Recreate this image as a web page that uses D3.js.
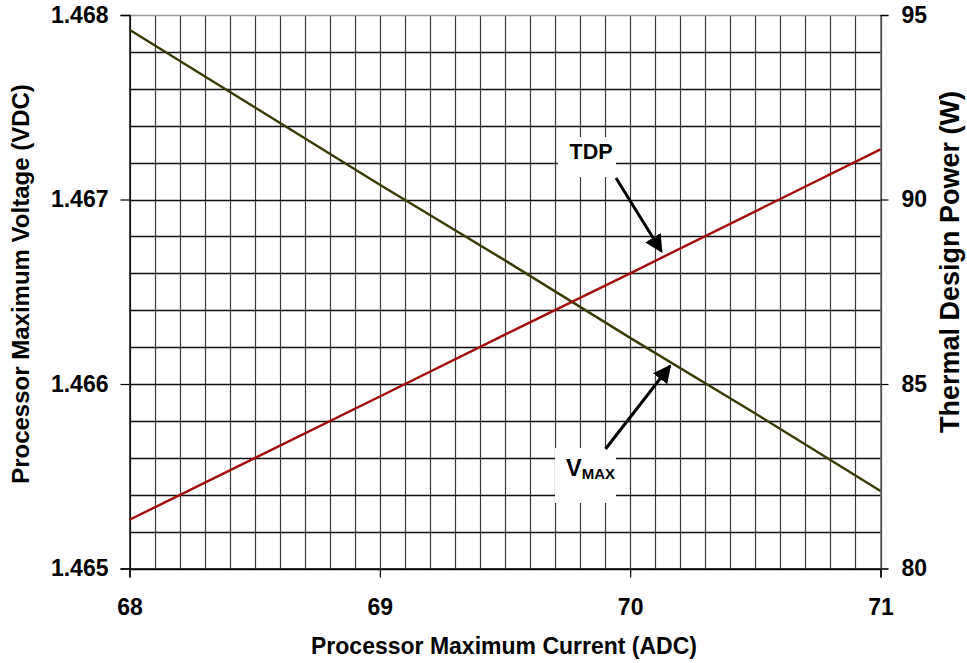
<!DOCTYPE html>
<html>
<head>
<meta charset="utf-8">
<script src="https://cdn.jsdelivr.net/npm/d3@7"></script>
<style>
  html, body { margin: 0; padding: 0; background: #fff; }
  svg { display: block; font-family: "Liberation Sans", Arial, sans-serif; font-weight: bold; }
</style>
</head>
<body>
<svg id="chart" width="967" height="663"></svg>
<script>
// ---- data ----
const currentA = [68, 68.5, 69, 69.5, 70, 70.5, 71];
const vmax = [1.46792, 1.46750, 1.46708, 1.46667, 1.46625, 1.46584, 1.46542];
const tdp = [81.32, 82.99, 84.66, 86.34, 88.00, 89.68, 91.36];
const xTicks = [68, 69, 70, 71];
const leftTicks = [1.465, 1.466, 1.467, 1.468];
const rightTicks = [80, 85, 90, 95];
const xTitle = "Processor Maximum Current (ADC)";
const leftTitle = "Processor Maximum Voltage (VDC)";
const rightTitle = "Thermal Design Power (W)";

const svg = d3.select("#chart");
const L = 129.5, R = 880.5, T = 15, B = 568.5;

const x = d3.scaleLinear().domain([68, 71]).range([L, R]);
const yL = d3.scaleLinear().domain([1.465, 1.468]).range([B, T]);
const yR = d3.scaleLinear().domain([80, 95]).range([B, T]);

// grid
const g = svg.append("g");
const vGrid = d3.range(0, 31).map(i => 68 + i * 0.1);
g.selectAll("line.v").data(vGrid).enter().append("line")
  .attr("x1", d => Math.round(x(d)) + 0.5).attr("x2", d => Math.round(x(d)) + 0.5)
  .attr("y1", T).attr("y2", B)
  .attr("stroke", "#3a3a3a").attr("stroke-width", 1.2);
const hGrid = d3.range(0, 16).map(i => 80 + i);
g.selectAll("line.h").data(hGrid).enter().append("line")
  .attr("x1", L).attr("x2", R)
  .attr("y1", d => Math.round(yR(d)) + 0.5).attr("y2", d => Math.round(yR(d)) + 0.5)
  .attr("stroke", d => d === 95 ? "#999" : "#111").attr("stroke-width", 1.3);

// axes
const fontSize = 23;
const bottomAxis = svg.append("g").attr("transform", `translate(0,${B})`)
  .call(d3.axisBottom(x).tickValues(xTicks).tickSize(9).tickPadding(21).tickFormat(d3.format("d")));
const leftAxis = svg.append("g").attr("transform", `translate(${L},0)`)
  .call(d3.axisLeft(yL).tickValues(leftTicks).tickSize(9).tickPadding(12).tickFormat(d3.format(".3f")));
const rightAxis = svg.append("g").attr("transform", `translate(${R},0)`)
  .call(d3.axisRight(yR).tickValues(rightTicks).tickSize(8).tickPadding(13).tickFormat(d3.format("d")));
[bottomAxis, leftAxis, rightAxis].forEach(a => {
  a.selectAll("text").attr("font-size", fontSize).attr("font-weight", "bold")
    .attr("font-family", "Liberation Sans, Arial, sans-serif").attr("fill", "#000");
  a.selectAll("line").attr("stroke", "#000").attr("stroke-width", 1.2);
  a.select(".domain").attr("stroke", "#000").attr("stroke-width", 1.4);
});
rightAxis.select(".domain").attr("stroke", "#555");

// lines
const lineV = d3.line().x((d, i) => x(currentA[i])).y(d => yL(d));
const lineT = d3.line().x((d, i) => x(currentA[i])).y(d => yR(d));
svg.append("path").datum(vmax).attr("d", lineV)
  .attr("fill", "none").attr("stroke", "#3a3a05").attr("stroke-width", 2.4);
svg.append("path").datum(tdp).attr("d", lineT)
  .attr("fill", "none").attr("stroke", "#a30a0a").attr("stroke-width", 2.4);

// annotation boxes
svg.append("rect").attr("x", 558).attr("y", 137).attr("width", 58).attr("height", 40).attr("fill", "#fff");
svg.append("rect").attr("x", 555).attr("y", 448).attr("width", 61).attr("height", 55).attr("fill", "#fff");

svg.append("text").attr("x", 591).attr("y", 158.5).attr("text-anchor", "middle")
  .attr("font-size", 21.5).attr("font-weight", "bold").attr("fill", "#000").text("TDP");
const vt = svg.append("text").attr("x", 566).attr("y", 476).attr("font-weight", "bold").attr("fill", "#000");
vt.append("tspan").attr("font-size", 23.5).text("V");
vt.append("tspan").attr("font-size", 15).attr("dy", 3).text("MAX");

// arrows
const defs = svg.append("defs");
defs.append("marker").attr("id", "ah").attr("viewBox", "0 0 10 10")
  .attr("refX", 9).attr("refY", 5).attr("markerWidth", 6).attr("markerHeight", 6)
  .attr("markerUnits", "strokeWidth").attr("orient", "auto")
  .append("path").attr("d", "M0,0 L10,5 L0,10 Z").attr("fill", "#000");
svg.append("line").attr("x1", 616).attr("y1", 178).attr("x2", 661.5).attr("y2", 251.5)
  .attr("stroke", "#000").attr("stroke-width", 3).attr("marker-end", "url(#ah)");
svg.append("line").attr("x1", 605.5).attr("y1", 449).attr("x2", 670).attr("y2", 366)
  .attr("stroke", "#000").attr("stroke-width", 3).attr("marker-end", "url(#ah)");

// titles
svg.append("text").attr("x", 504).attr("y", 654).attr("text-anchor", "middle")
  .attr("font-size", 23).attr("font-weight", "bold").text(xTitle);
svg.append("text").attr("transform", "translate(29,284) rotate(-90)").attr("text-anchor", "middle")
  .attr("font-size", 24).attr("font-weight", "bold").text(leftTitle);
svg.append("text").attr("transform", "translate(959,262) rotate(-90)").attr("text-anchor", "middle")
  .attr("font-size", 27).attr("font-weight", "bold").text(rightTitle);
</script>
</body>
</html>
